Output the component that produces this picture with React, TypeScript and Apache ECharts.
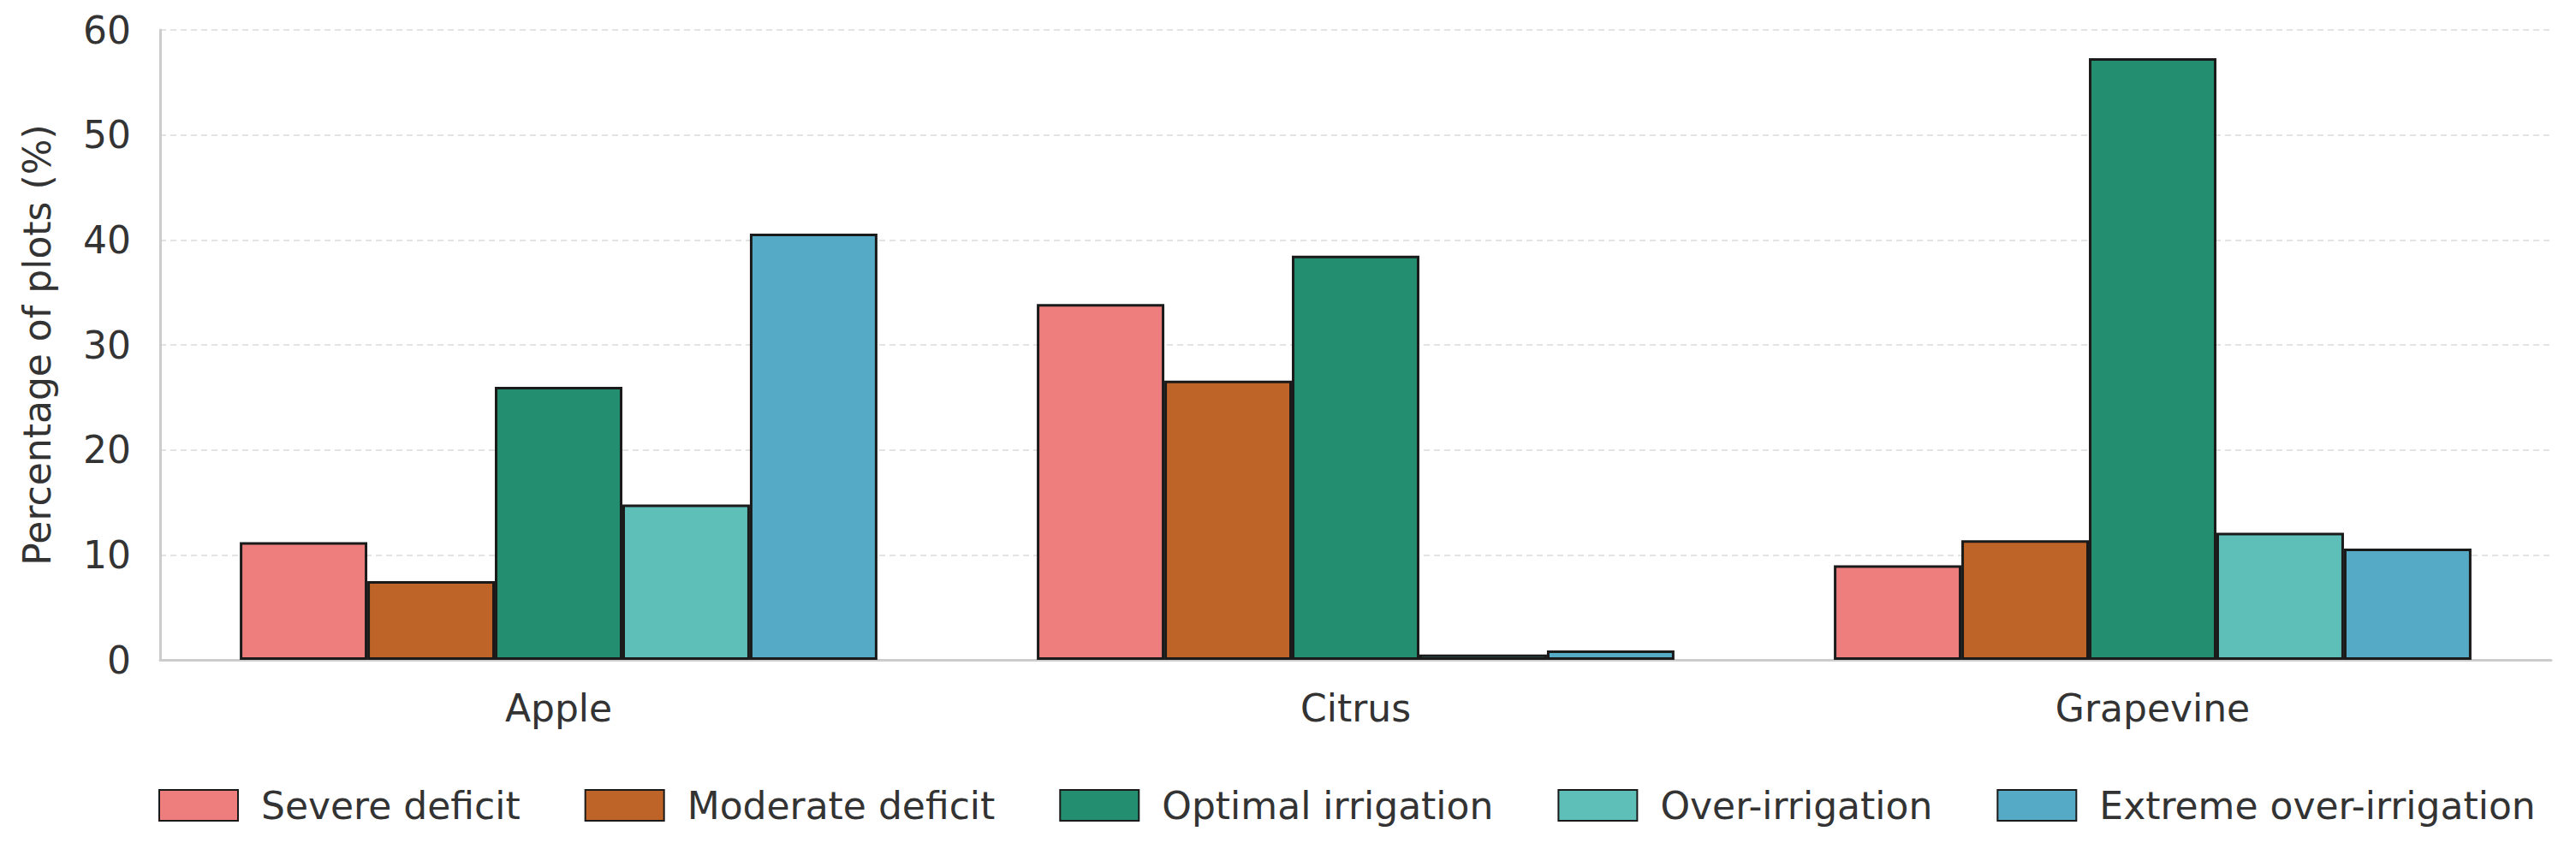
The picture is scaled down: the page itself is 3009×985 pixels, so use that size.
import React, { useEffect, useRef } from "react";
import * as echarts from "echarts";

const categories = ["Apple", "Citrus", "Grapevine"];
const seriesNames = [
  "Severe deficit",
  "Moderate deficit",
  "Optimal irrigation",
  "Over-irrigation",
  "Extreme over-irrigation",
];
const severeDeficit = [11.2, 33.9, 9.0];
const moderateDeficit = [7.5, 26.6, 11.4];
const optimalIrrigation = [26.0, 38.5, 57.3];
const overIrrigation = [14.8, 0.5, 12.1];
const extremeOverIrrigation = [40.6, 0.9, 10.6];
const seriesColors = ["#EE7E7E", "#BF6428", "#238F70", "#5DBFB8", "#55ABC5"];
const yTicks = [0, 10, 20, 30, 40, 50, 60];

const FONT = "DejaVu Sans";

export default function App() {
  const ref = useRef<HTMLDivElement>(null);

  useEffect(() => {
    document.body.style.margin = "0";
    if (!ref.current) return;
    const chart = echarts.init(ref.current, undefined, { renderer: "svg" });
    const values = [
      severeDeficit,
      moderateDeficit,
      optimalIrrigation,
      overIrrigation,
      extremeOverIrrigation,
    ];
    chart.setOption({
      animation: false,
      backgroundColor: "#ffffff",
      textStyle: { fontFamily: FONT },
      grid: { left: 187, right: 29, top: 35, bottom: 214, containLabel: false },
      legend: {
        data: seriesNames,
        left: 180,
        top: 914,
        itemWidth: 92,
        itemHeight: 36,
        itemGap: 75,
        icon: "rect",
        textStyle: {
          fontFamily: FONT,
          fontSize: 44,
          color: "#333333",
          padding: [0, 0, 0, 22],
        },
      },
      xAxis: {
        type: "category",
        data: categories,
        boundaryGap: true,
        axisLine: { show: true, lineStyle: { color: "#cccccc", width: 3 } },
        axisTick: { show: false },
        axisLabel: {
          fontFamily: FONT,
          fontSize: 44,
          color: "#333333",
          margin: 34,
        },
        splitLine: { show: false },
      },
      yAxis: {
        type: "value",
        min: yTicks[0],
        max: yTicks[yTicks.length - 1],
        interval: 10,
        name: "Percentage of plots (%)",
        nameLocation: "middle",
        nameGap: 122,
        nameTextStyle: { fontFamily: FONT, fontSize: 44, color: "#333333" },
        axisLine: { show: true, lineStyle: { color: "#cccccc", width: 3 } },
        axisTick: { show: false },
        axisLabel: {
          fontFamily: FONT,
          fontSize: 44,
          color: "#333333",
          margin: 34,
        },
        splitLine: {
          show: true,
          lineStyle: { color: "#e3e3e3", width: 2, type: [7, 5] },
        },
      },
      series: seriesNames.map((name, i) => ({
        name,
        type: "bar",
        data: values[i],
        barGap: "0%",
        barCategoryGap: "20%",
        itemStyle: {
          color: seriesColors[i],
          borderColor: "#1a1a1a",
          borderWidth: 3,
        },
      })),
    });
    return () => chart.dispose();
  }, []);

  return <div ref={ref} style={{ width: 3009, height: 985 }} />;
}
